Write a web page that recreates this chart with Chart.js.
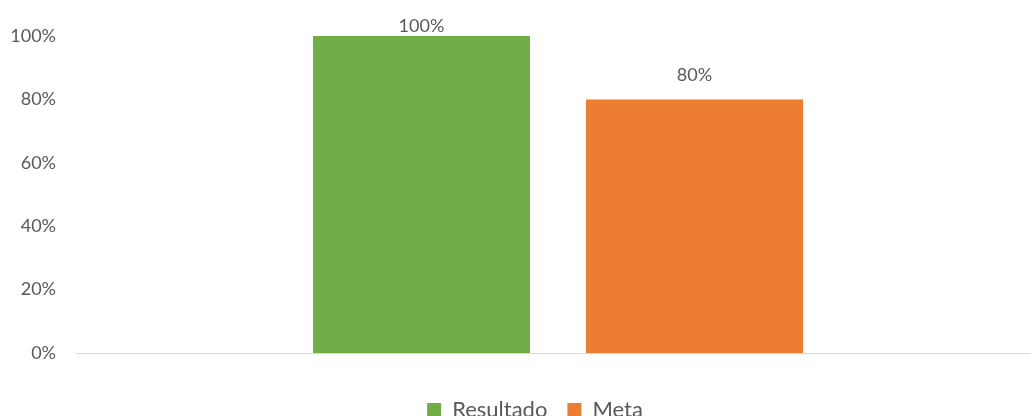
<!DOCTYPE html>
<html>
<head>
<meta charset="utf-8">
<script src="https://cdn.jsdelivr.net/npm/chart.js@4"></script>
<style>
  html, body { margin: 0; padding: 0; background: #fff; }
  #wrap { width: 1031px; height: 416px; }
</style>
</head>
<body>
<div id="wrap"><canvas id="barChart"></canvas></div>
<script>
// values
const categories = [''];
const seriesNames = ['Resultado', 'Meta'];
const resultado = [100];
const meta = [80];
const yTicks = [0, 20, 40, 60, 80, 100];

const textColor = '#595959';
Chart.defaults.font.family = 'Lato, "Open Sans", sans-serif';
Chart.defaults.color = textColor;

// labels above bars, like the Excel data labels
const barLabels = {
  id: 'barLabels',
  afterLayout(chart) {
    // legend sits a little right of centre in the original
    chart.legend.left += 15;
    chart.legend.right += 15;
    // bar group is centred slightly right of the plot area too
    const x = chart.scales.x;
    x.right = 1040;
    x.width = x.right - x.left;
    x.configure();
  },
  afterDatasetsDraw(chart) {
    const ctx = chart.ctx;
    ctx.save();
    ctx.font = '18px Lato, sans-serif';
    ctx.fillStyle = textColor;
    ctx.textAlign = 'center';
    ctx.textBaseline = 'middle';
    chart.data.datasets.forEach((ds, i) => {
      chart.getDatasetMeta(i).data.forEach((bar, j) => {
        const y = Math.max(bar.y - 24, chart.chartArea.top - 10);
        ctx.fillText(ds.data[j] + '%', bar.x, y);
      });
    });
    ctx.restore();
  }
};

new Chart(document.getElementById('barChart'), {
  type: 'bar',
  data: {
    labels: categories,
    datasets: [{
      label: seriesNames[0],
      data: resultado,
      backgroundColor: '#70AD47'
    }, {
      label: seriesNames[1],
      data: meta,
      backgroundColor: '#ED7D31'
    }]
  },
  options: {
    responsive: true,
    maintainAspectRatio: false,
    animation: false,
    layout: {
      // the legend runs off the bottom edge in the original
      padding: { top: 36, left: 0, right: -9, bottom: -15 }
    },
    datasets: {
      bar: { categoryPercentage: 0.5664, barPercentage: 0.795 }
    },
    scales: {
      x: {
        afterFit(scale) { scale.height = 26; },
        grid: { display: false },
        border: { display: true, color: '#D9D9D9', width: 1 },
        ticks: { display: false }
      },
      y: {
        min: 0,
        max: 100,
        afterBuildTicks(scale) {
          scale.ticks = yTicks.map(v => ({ value: v }));
        },
        afterFit(scale) { scale.width = 76; },
        grid: { display: false, drawTicks: false },
        border: { display: false },
        ticks: {
          padding: 20,
          font: { size: 18 },
          callback: v => v + '%'
        }
      }
    },
    plugins: {
      legend: {
        position: 'bottom',
        labels: {
          boxWidth: 14,
          boxHeight: 14,
          padding: 20,
          font: { size: 22 },
          color: textColor
        }
      },
      tooltip: { enabled: false }
    }
  },
  plugins: [barLabels]
});
</script>
</body>
</html>
